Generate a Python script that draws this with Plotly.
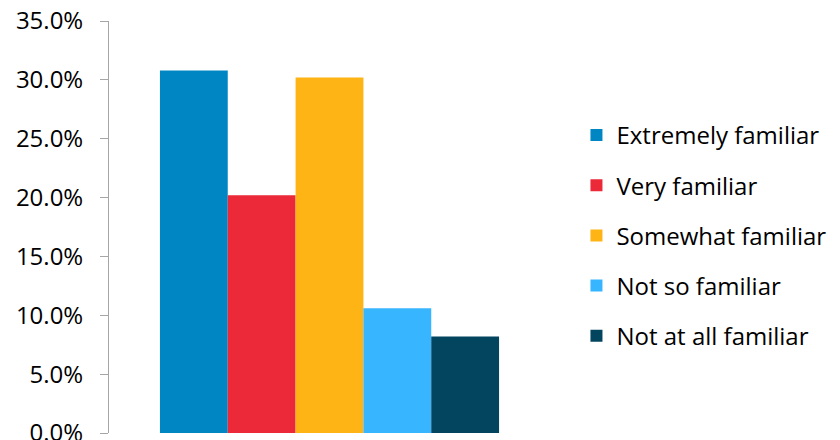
import plotly.graph_objects as go

categories = ["Extremely familiar", "Very familiar", "Somewhat familiar", "Not so familiar", "Not at all familiar"]
values = [30.8, 20.2, 30.2, 10.6, 8.2]
colors = ["#0087C3", "#EB2939", "#FEB414", "#38B5FF", "#03445F"]
tick_vals = [0, 5, 10, 15, 20, 25, 30, 35]
tick_text = ["0.0%", "5.0%", "10.0%", "15.0%", "20.0%", "25.0%", "30.0%", "35.0%"]

fig = go.Figure()
for name, v, c in zip(categories, values, colors):
    fig.add_trace(go.Bar(x=[""], y=[v], name=name, marker=dict(color=c, line=dict(width=0)),
                         legendgroup=name))

fig.update_layout(
    width=840, height=440,
    margin=dict(l=109, r=290, t=21, b=7, autoexpand=False),
    barmode="group", bargap=0.231, bargroupgap=0,
    plot_bgcolor="white", paper_bgcolor="white",
    font=dict(family="Open Sans", size=24, color="#000000"),
    showlegend=True,
    legend=dict(x=1.06, xanchor="left", y=0.777, yanchor="top",
                font=dict(size=24), tracegroupgap=16, bgcolor="rgba(0,0,0,0)"),
)
fig.update_yaxes(range=[0, 35], tickvals=tick_vals, ticktext=tick_text,
                 showline=True, linecolor="#A6A6A6", linewidth=1,
                 ticks="outside", ticklen=8, tickcolor="#A6A6A6",
                 showgrid=False, zeroline=False, ticklabelstandoff=12,
                 ticklabeloverflow="allow", automargin=False)
fig.update_xaxes(showline=False, showticklabels=False, ticks="", showgrid=False, zeroline=False,
                 automargin=False)

fig.write_html("out.html")
